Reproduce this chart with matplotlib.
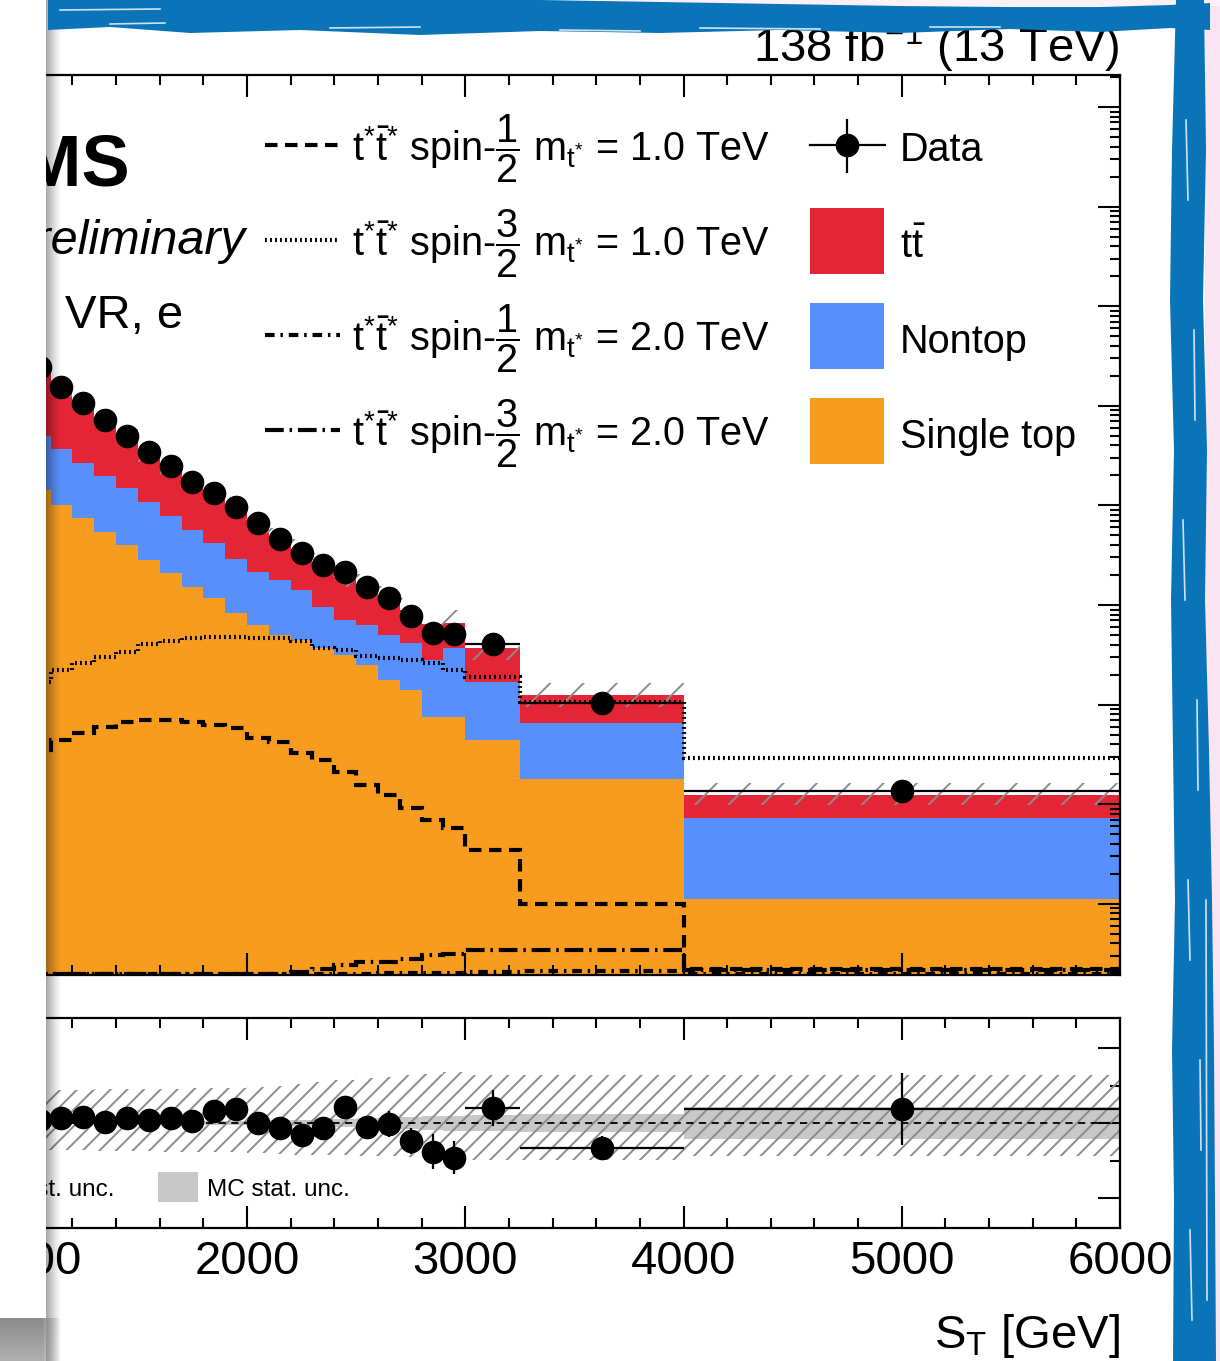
import matplotlib
matplotlib.use("Agg")
import matplotlib.pyplot as plt
import numpy as np
from matplotlib.ticker import MultipleLocator, LogLocator, NullFormatter
from matplotlib.patches import Rectangle, Polygon

plt.rcParams['font.family'] = ['Liberation Sans', 'DejaVu Sans']
plt.rcParams['mathtext.fontset'] = 'custom'
plt.rcParams['mathtext.rm'] = 'Liberation Sans'
plt.rcParams['mathtext.it'] = 'Liberation Sans:italic'
plt.rcParams['mathtext.bf'] = 'Liberation Sans:bold'
plt.rcParams['hatch.linewidth'] = 1.4
plt.rcParams['hatch.color'] = '#8c8c8c'

# S_T binning [GeV]
edges = [1000, 1100, 1200, 1300, 1400, 1500, 1600, 1700, 1800, 1900, 2000,
         2100, 2200, 2300, 2400, 2500, 2600, 2700, 2800, 2900, 3000,
         3250, 4000, 6000]

# backgrounds (stacked)
single_top = [1429, 1009, 747, 541, 400, 283, 209, 152, 117, 83, 63, 50, 44.6,
              37, 31.5, 25, 17.7, 14.0, 7.5, 7.5, 4.4, 1.79, 0.112]
nontop = [3548, 2674, 1918, 1433, 1095, 799, 574, 414, 302, 207, 151, 128, 97.4,
          58.5, 39.2, 38, 32.3, 27.5, 20.5, 29.5, 12.5, 4.71, 0.618]
ttbar = [19043, 11225, 7623, 5176, 3326, 2291, 1627, 1132, 812, 592, 452, 298, 220,
         165.5, 122.3, 93, 67.8, 47.1, 36.4, 29.5, 20.4, 6.0, 0.514]

# data
data = [24500, 15400, 10700, 7200, 4980, 3440, 2490, 1720, 1330, 964, 666, 460, 333,
        252, 214, 152, 117, 78, 52, 51, 41, 10.4, 1.36]
data_err = [480, 298, 247, 186, 145, 108, 87, 68, 54, 42, 35, 27, 22,
            16.7, 12.9, 10.5, 10.2, 7.7, 7.5, 7.3, 4.5, 1.0, 0.30]

# uncertainties (relative)
syst_up = [0.22, 0.22, 0.222, 0.224, 0.226, 0.228, 0.23, 0.232, 0.234, 0.236, 0.24,
           0.25, 0.26, 0.275, 0.29, 0.30, 0.31, 0.32, 0.33, 0.34, 0.32, 0.32, 0.32]
syst_dn = [0.18, 0.18, 0.182, 0.184, 0.186, 0.188, 0.19, 0.192, 0.194, 0.196, 0.2,
           0.205, 0.21, 0.213, 0.216, 0.22, 0.222, 0.224, 0.226, 0.228, 0.245, 0.245, 0.22]
mc_stat = [0.006, 0.006, 0.008, 0.008, 0.01, 0.01, 0.012, 0.012, 0.014, 0.016, 0.018,
           0.02, 0.022, 0.025, 0.028, 0.032, 0.036, 0.04, 0.045, 0.05, 0.055, 0.06, 0.105]

# signals
sig_half_1000 = [3.5, 4.4, 5.2, 6.0, 6.7, 7.0, 7.0, 6.7, 6.2, 5.8, 4.6, 4.2, 3.3,
                 2.8, 2.1, 1.56, 1.24, 0.92, 0.69, 0.58, 0.35, 0.10, 0.022]
sig_3half_1000 = [16.9, 22.3, 26.2, 30.1, 33.8, 40.6, 43.5, 46.7, 47.8, 47.8, 46.7, 46.7,
                  43.5, 37.0, 35.3, 30.8, 29.4, 28.0, 26.2, 22.3, 18.9, 10.6, 2.91]
sig_half_2000 = [0.0196, 0.0196, 0.0196, 0.0196, 0.0196, 0.0196, 0.0196, 0.0196, 0.0196,
                 0.0196, 0.0196, 0.0196, 0.0196, 0.0197, 0.0198, 0.0199, 0.02, 0.0201,
                 0.0202, 0.0203, 0.0205, 0.021, 0.0198]
sig_3half_2000 = [0.0199, 0.0199, 0.0199, 0.0199, 0.0199, 0.0199, 0.0199, 0.0199, 0.0199,
                  0.0199, 0.0199, 0.0199, 0.0205, 0.022, 0.0243, 0.026, 0.026, 0.028,
                  0.0306, 0.031, 0.0344, 0.0344, 0.0216]

c_tt = '#e42536'
c_nontop = '#5790fc'
c_st = '#f89c20'

sig_styles = [(0, (3.0, 1.8)), (0, (0.45, 0.75)), (0, (2.3, 1.4, 0.6, 1.4)),
              (0, (4.5, 1.4, 0.6, 1.4))]
sig_lw = 3.0

edges = np.array(edges, dtype=float)
centers = 0.5 * (edges[1:] + edges[:-1])
half_w = 0.5 * (edges[1:] - edges[:-1])
s1 = np.array(single_top)
s2 = s1 + np.array(nontop)
total = s2 + np.array(ttbar)
data = np.array(data)
data_err = np.array(data_err)

W, H = 1220, 1361
fig = plt.figure(figsize=(W / 100, H / 100), dpi=100)


def px_rect(x0, y0, x1, y1):
    return [x0 / W, 1 - y1 / H, (x1 - x0) / W, (y1 - y0) / H]


ax = fig.add_axes(px_rect(28.75, 75, 1120, 975))
rax = fig.add_axes(px_rect(28.75, 1018, 1120, 1228))

# stacked backgrounds
ax.stairs(total, edges, baseline=s2, fill=True, color=c_tt, lw=0, zorder=1)
ax.stairs(s2, edges, baseline=s1, fill=True, color=c_nontop, lw=0, zorder=1)
ax.stairs(s1, edges, baseline=1e-3, fill=True, color=c_st, lw=0, zorder=1)
ax.stairs(total * (1 + np.array(syst_up)), edges, baseline=total * (1 - np.array(syst_dn)),
          fill=True, facecolor='none', edgecolor='#8c8c8c', hatch='/', lw=0, zorder=2)

# signals
for sig, ls in zip([sig_half_1000, sig_3half_1000, sig_half_2000, sig_3half_2000], sig_styles):
    ax.stairs(sig, edges, baseline=None, color='k', lw=sig_lw, ls=ls, zorder=3)

ax.errorbar(centers, data, yerr=data_err, xerr=half_w, fmt='o', color='k', ms=16,
            elinewidth=1.6, capsize=0, zorder=5)

ax.set_yscale('log')
ax.set_xlim(1000, 6000)
ax.set_ylim(10 ** -1.715, 10 ** 7.321)

# ratio panel
ratio = data / total
rax.stairs(1 + np.array(mc_stat), edges, baseline=1 - np.array(mc_stat), fill=True,
           color='#c8c8c8', lw=0, zorder=1)
rax.stairs(1 + np.array(syst_up), edges, baseline=1 - np.array(syst_dn), fill=True,
           facecolor='none', edgecolor='#8c8c8c', hatch='//', lw=0, zorder=2)
rax.axhline(1.0, color='k', ls=(0, (4, 3)), lw=1.3, zorder=3)
rax.errorbar(centers, ratio, yerr=data_err / total, xerr=half_w, fmt='o', color='k',
             ms=16, elinewidth=1.6, capsize=0, zorder=5)
rax.set_xlim(1000, 6000)
rax.set_ylim(0.3, 1.7)

for a in (ax, rax):
    a.xaxis.set_major_locator(MultipleLocator(1000))
    a.xaxis.set_minor_locator(MultipleLocator(200))
    a.tick_params(which='both', direction='in', top=True, right=True, left=False,
                  labelleft=False, width=1.5)
    a.tick_params(which='major', length=15.5)
    a.tick_params(which='minor', length=7)
    for sp in a.spines.values():
        sp.set_linewidth(1.6)
    a.spines['left'].set_visible(False)

ax.yaxis.set_major_locator(LogLocator(base=10, numticks=30))
ax.yaxis.set_minor_locator(LogLocator(base=10, subs=np.arange(2, 10), numticks=30))
ax.yaxis.set_minor_formatter(NullFormatter())
ax.tick_params(labelbottom=False)
rax.yaxis.set_major_locator(MultipleLocator(0.5))
rax.yaxis.set_minor_locator(MultipleLocator(0.25))
rax.tick_params(axis='x', labelsize=34, pad=9)

# overlay in pixel coordinates
ov = fig.add_axes([0, 0, 1, 1], zorder=10)
ov.patch.set_alpha(0)
ov.axis('off')

ov.text(130, 185, 'CMS', fontsize=52, fontweight='bold', ha='right', va='baseline')
ov.text(245, 254, 'Preliminary', fontsize=35, style='italic', ha='right', va='baseline')
ov.text(65, 328, 'VR, e', fontsize=34, ha='left', va='baseline')
ov.text(1120, 62, r'138 fb$^{-1}$ (13 TeV)', fontsize=34, ha='right', va='baseline')
ov.text(1120, 1348, r'S$_{\mathrm{T}}$ [GeV]', fontsize=34, ha='right', va='baseline')

# legend: signals
sig_names = [(r'\dfrac{1}{2}', '1.0'), (r'\dfrac{3}{2}', '1.0'),
             (r'\dfrac{1}{2}', '2.0'), (r'\dfrac{3}{2}', '2.0')]
for i, (ls, (frac, mass)) in enumerate(zip(sig_styles, sig_names)):
    yc = 145 + 95 * i
    ov.plot([265, 340], [yc, yc], color='k', lw=sig_lw, ls=ls)
    ov.text(352, yc + 16,
            r'$\mathrm{t^{*}\bar{t}^{*}}$ spin-$' + frac + r'$ m$_{\mathrm{t^{*}}}$ = ' + mass + ' TeV',
            fontsize=28.5, ha='left', va='baseline')

# legend: data and backgrounds
ov.plot([810, 885], [145, 145], color='k', lw=1.6)
ov.plot([847, 847], [120, 172], color='k', lw=1.6)
ov.plot([847], [145], 'o', color='k', ms=16)
ov.text(900, 161, 'Data', fontsize=28.5, ha='left', va='baseline')
for i, (col, name) in enumerate([(c_tt, r't$\mathrm{\bar{t}}$'), (c_nontop, 'Nontop'),
                                 (c_st, 'Single top')]):
    y0 = 208 + 95 * i
    ov.add_patch(Rectangle((810, y0), 74, 66, color=col, lw=0))
    ov.text(900, y0 + 50, name, fontsize=28.5, ha='left', va='baseline')

# ratio legend
ov.add_patch(Rectangle((158, 1172), 40, 30, color='#c8c8c8', lw=0))
ov.text(207, 1196, 'MC stat. unc.', fontsize=17.5, ha='left', va='baseline')
ov.text(115, 1196, 'Syst. unc.', fontsize=17.5, ha='right', va='baseline')

# page edge on the left with its shadow
ov.add_patch(Rectangle((0, 0), 46, 1318, color='white', lw=0, zorder=5))
shade = np.zeros((1, 32, 4))
shade[0, :, 3] = np.linspace(0.45, 0.0, 32) ** 1.3
ov.imshow(shade, extent=(46, 62, H, 0), aspect='auto', zorder=6, interpolation='bilinear')
bottom = np.zeros((16, 24, 4))
bottom[..., :3] = 0.55
gy = np.linspace(1.0, 0.7, 16)[:, None]
gx = np.concatenate([np.ones(16), np.linspace(1, 0, 8)])[None, :]
bottom[..., 3] = gy * gx
ov.imshow(bottom, extent=(0, 62, H, 1318), aspect='auto', zorder=6, interpolation='bilinear')

# brush frame, top and right
blue = '#0a74b8'
pink = '#fbe4f1'
ov.add_patch(Rectangle((1205, 0), 20, H, color=pink, lw=0, zorder=7))
ov.add_patch(Rectangle((600, 0), 620, 6, color='#fdf1f7', lw=0, zorder=7))
top_x = [48, 110, 190, 300, 420, 540, 660, 780, 900, 1010, 1100, 1170, 1210]
top_lo = [30, 27, 33, 30, 35, 31, 33, 30, 33, 29, 32, 28, 30]
top_hi = [0, 0, 0, 0, 0, 0, 2, 4, 6, 7, 7, 5, 3]
ov.add_patch(Polygon(list(zip(top_x, top_hi)) + list(zip(top_x[::-1], top_lo[::-1])),
                     closed=True, color=blue, lw=0, zorder=8))
side_y = [0, 150, 300, 450, 600, 750, 900, 1050, 1200, H]
side_l = [1176, 1172, 1170, 1174, 1171, 1173, 1175, 1172, 1174, 1173]
side_r = [1204, 1206, 1203, 1207, 1205, 1209, 1212, 1214, 1215, 1216]
ov.add_patch(Polygon(list(zip(side_l, side_y)) + list(zip(side_r[::-1], side_y[::-1])),
                     closed=True, color=blue, lw=0, zorder=8))
streaks = [([60, 160], [10, 9]), ([110, 165], [24, 23]), ([330, 420], [28, 27]),
           ([560, 640], [30, 31]), ([700, 820], [28, 29]), ([930, 1000], [27, 27]),
           ([1186, 1188], [120, 200]), ([1194, 1195], [330, 420]), ([1183, 1185], [520, 600]),
           ([1197, 1198], [700, 790]), ([1188, 1190], [880, 960]), ([1200, 1201], [1060, 1150]),
           ([1190, 1192], [1230, 1320]), ([1206, 1207], [900, 1300])]
for sx, sy in streaks:
    ov.plot(sx, sy, color='white', lw=1.2, alpha=0.8, zorder=9)

ov.set_xlim(0, W)
ov.set_ylim(H, 0)

fig.savefig('out.png', dpi=100)
